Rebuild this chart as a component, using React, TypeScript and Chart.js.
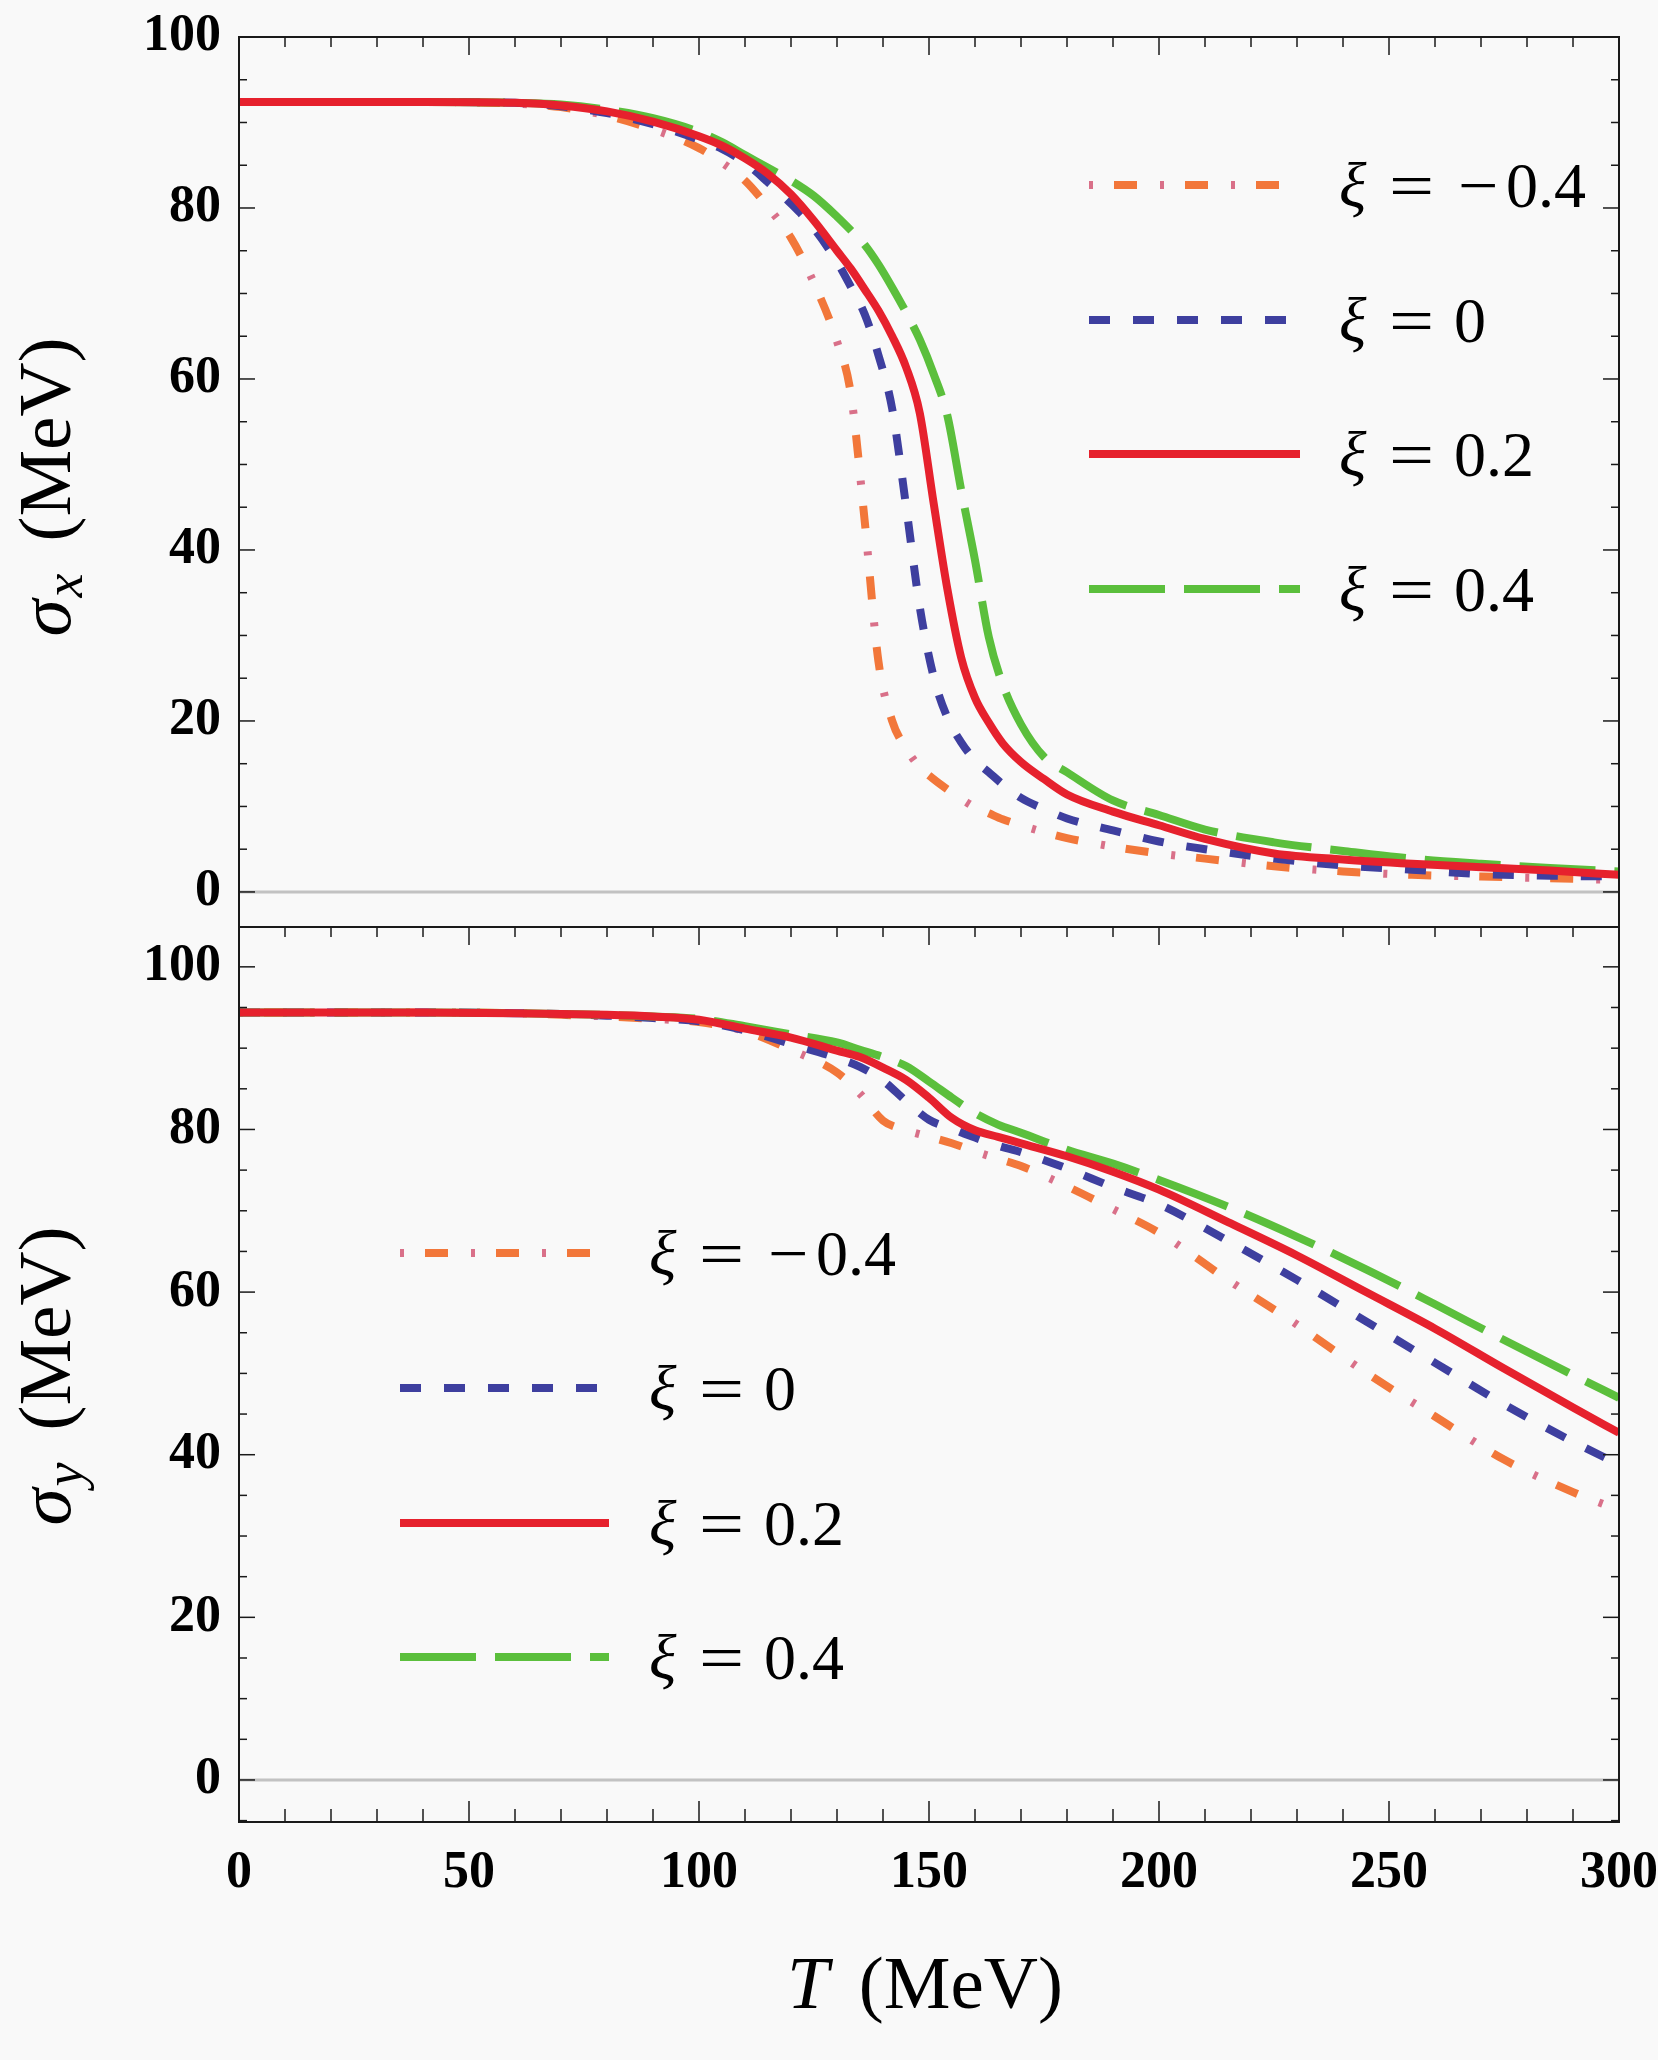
import { useEffect, useRef } from "react";
import { Chart, registerables } from "chart.js";

Chart.register(...registerables);

const SERIF = '"Liberation Serif", "Times New Roman", serif';

// top panel: sigma_x (MeV) against T (MeV)
const tempTop = [0, 20, 40, 60, 70, 80, 90, 100, 105, 110, 115, 120, 125, 130, 133, 136, 139, 142, 145, 148, 151, 154, 157, 160, 163, 166, 170, 175, 180, 190, 200, 210, 225, 240, 255, 270, 285, 300];
const sigmaXm04 = [92.4, 92.4, 92.4, 92.2, 91.8, 90.8, 89.2, 87.0, 85.3, 83.2, 80.1, 76.5, 71.2, 64.4, 58.3, 43.5, 27.0, 20.0, 16.8, 14.6, 13.2, 12.0, 10.9, 9.9, 9.2, 8.5, 7.8, 7.0, 6.3, 5.3, 4.5, 3.9, 3.0, 2.4, 2.0, 1.8, 1.6, 1.4];
const sigmaX0 = [92.4, 92.4, 92.4, 92.3, 91.9, 91.1, 89.8, 88.0, 86.9, 85.3, 83.0, 80.5, 77.6, 73.7, 70.8, 67.6, 62.8, 56.5, 45.2, 33.3, 25.2, 20.4, 17.5, 15.4, 14.0, 12.6, 11.0, 9.7, 8.6, 7.2, 5.9, 5.0, 3.9, 3.1, 2.6, 2.1, 1.9, 1.8];
const sigmaX02 = [92.4, 92.4, 92.4, 92.3, 92.0, 91.3, 90.1, 88.4, 87.3, 85.8, 84.0, 81.6, 78.5, 75.0, 72.9, 70.5, 68.0, 65.0, 61.4, 56.0, 45.5, 35.4, 27.4, 22.7, 19.8, 17.4, 15.2, 13.2, 11.4, 9.4, 7.8, 6.2, 4.5, 3.8, 3.3, 2.9, 2.5, 2.0];
const sigmaX04 = [92.4, 92.4, 92.4, 92.3, 92.1, 91.5, 90.5, 88.9, 87.7, 86.2, 84.7, 83.2, 81.4, 79.0, 77.4, 75.7, 73.4, 70.7, 67.8, 64.6, 60.6, 55.7, 47.0, 38.8, 29.8, 24.3, 19.6, 15.8, 14.0, 10.7, 9.0, 7.3, 5.8, 4.8, 3.9, 3.3, 2.8, 2.4];

// bottom panel: sigma_y (MeV) against T (MeV)
const tempBottom = [0, 20, 40, 60, 70, 80, 90, 100, 110, 120, 130, 135, 140, 145, 150, 155, 160, 165, 170, 180, 190, 200, 215, 230, 245, 260, 275, 290, 300];
const sigmaYm04 = [94.4, 94.4, 94.4, 94.3, 94.1, 93.9, 93.6, 93.2, 92.1, 89.8, 87.0, 84.4, 81.1, 79.9, 79.1, 78.3, 77.3, 76.4, 75.5, 73.0, 70.2, 67.3, 61.5, 56.0, 50.1, 44.7, 39.4, 35.4, 33.2];
const sigmaY0 = [94.4, 94.4, 94.4, 94.3, 94.2, 94.0, 93.7, 93.3, 92.2, 90.5, 88.8, 87.7, 86.0, 83.5, 81.2, 80.1, 79.0, 78.0, 77.2, 75.2, 72.9, 70.8, 66.3, 61.5, 56.4, 51.3, 46.2, 41.6, 38.8];
const sigmaY02 = [94.4, 94.4, 94.4, 94.3, 94.2, 94.1, 93.9, 93.5, 92.4, 91.3, 89.7, 88.9, 87.6, 86.1, 83.9, 81.4, 79.9, 79.1, 78.3, 76.7, 74.8, 72.6, 68.6, 64.5, 60.0, 55.5, 50.6, 45.8, 42.7];
const sigmaY04 = [94.4, 94.4, 94.4, 94.3, 94.2, 94.1, 93.9, 93.6, 92.7, 91.7, 90.7, 89.8, 88.9, 87.8, 85.9, 83.9, 82.0, 80.6, 79.6, 77.5, 75.8, 73.8, 70.5, 66.8, 62.8, 58.5, 54.1, 49.8, 47.0];

const xTickValues = [0, 50, 100, 150, 200, 250, 300];
const yTickValues = [0, 20, 40, 60, 80, 100];
const xiLabels = ["−0.4", "0", "0.2", "0.4"];

const ORANGE = "#f2773a";
const PINK = "#d97089";
const BLUE = "#3e3f9f";
const RED = "#e6212d";
const GREEN = "#5bbf3c";
const LINE_W = 8;

type LineStyle = { color: string; dash: number[]; offset: number };
// one entry per xi; the dot-dash one is drawn as two passes (dashes + dots)
const lineStyles: LineStyle[][] = [
  [
    { color: ORANGE, dash: [23, 48], offset: 46 },
    { color: PINK, dash: [4, 67], offset: 0 },
  ],
  [{ color: BLUE, dash: [21, 23], offset: 0 }],
  [{ color: RED, dash: [], offset: 0 }],
  [{ color: GREEN, dash: [76, 19], offset: 0 }],
];

type Spec = {
  top: number;
  height: number;
  padTop: number;
  chartBottom: number;
  showX: boolean;
  yMin: number;
  yMax: number;
  temps: number[];
  series: number[][];
  sub: string;
  titleCenter: number;
  legendX0: number;
  legendX1: number;
  legendTextX: number;
  legendRows: number[];
};

const topSpec: Spec = {
  top: 0,
  height: 940,
  padTop: 37,
  chartBottom: 927,
  showX: false,
  yMin: -4.1,
  yMax: 100,
  temps: tempTop,
  series: [sigmaXm04, sigmaX0, sigmaX02, sigmaX04],
  sub: "x",
  titleCenter: 487,
  legendX0: 1089,
  legendX1: 1300,
  legendTextX: 1339,
  legendRows: [185, 320, 454, 589],
};

const bottomSpec: Spec = {
  top: 900,
  height: 1160,
  padTop: 27,
  chartBottom: 1822,
  showX: true,
  yMin: -5.17,
  yMax: 104.9,
  temps: tempBottom,
  series: [sigmaYm04, sigmaY0, sigmaY02, sigmaY04],
  sub: "y",
  titleCenter: 1376,
  legendX0: 400,
  legendX1: 609,
  legendTextX: 649,
  legendRows: [1253, 1388, 1523, 1657],
};

function line(ctx: CanvasRenderingContext2D, x1: number, y1: number, x2: number, y2: number) {
  ctx.beginPath();
  ctx.moveTo(x1, y1);
  ctx.lineTo(x2, y2);
  ctx.stroke();
}

function decor(spec: Spec) {
  const dy = spec.top;
  return {
    id: "decor",
    beforeDatasetsDraw(chart: any) {
      const { ctx, chartArea: a, scales } = chart;
      const y0 = scales.y.getPixelForValue(0);
      ctx.save();
      ctx.strokeStyle = "#c2c2c2";
      ctx.lineWidth = 3;
      line(ctx, a.left, y0, a.right, y0);
      ctx.restore();
    },
    afterDatasetsDraw(chart: any) {
      const { ctx, chartArea: a, scales } = chart;
      ctx.save();
      ctx.strokeStyle = "#1a1a1a";
      ctx.lineWidth = 2;
      ctx.strokeRect(a.left, a.top, a.right - a.left, a.bottom - a.top);
      ctx.lineWidth = 1.5;
      for (let v = Math.ceil(spec.yMin / 5) * 5; v <= spec.yMax; v += 5) {
        const py = scales.y.getPixelForValue(v);
        const len = v % 20 === 0 ? 16 : 8;
        line(ctx, a.left, py, a.left + len, py);
        line(ctx, a.right, py, a.right - len, py);
      }
      for (let v = 10; v < 300; v += 10) {
        const px = scales.x.getPixelForValue(v);
        const major = v % 50 === 0;
        line(ctx, px, a.top, px, a.top + (major ? 18 : 10));
        if (spec.showX) line(ctx, px, a.bottom, px, a.bottom - (major ? 21 : 13));
      }
      ctx.restore();
    },
    afterDraw(chart: any) {
      const ctx: CanvasRenderingContext2D = chart.ctx;
      ctx.save();
      ctx.fillStyle = "#000";
      ctx.textAlign = "left";
      ctx.textBaseline = "alphabetic";

      // legend
      spec.legendRows.forEach((rowY, i) => {
        const y = rowY - dy;
        ctx.lineWidth = LINE_W;
        lineStyles[i].forEach((st) => {
          ctx.strokeStyle = st.color;
          ctx.setLineDash(st.dash);
          ctx.lineDashOffset = st.offset;
          line(ctx, spec.legendX0, y, spec.legendX1, y);
        });
        ctx.setLineDash([]);
        const tx = spec.legendTextX;
        const base = y + 22;
        ctx.font = `italic 64px ${SERIF}`;
        ctx.fillText("ξ", tx, base);
        ctx.font = `64px ${SERIF}`;
        ctx.save();
        ctx.translate(tx + 50, base);
        ctx.scale(1.25, 1);
        ctx.fillText("=", 0, 0);
        ctx.restore();
        const label = xiLabels[i];
        if (label.startsWith("−")) {
          ctx.save();
          ctx.translate(tx + 119, base);
          ctx.scale(1.12, 1);
          ctx.fillText("−", 0, 0);
          ctx.restore();
          ctx.fillText(label.slice(1), tx + 167, base);
        } else {
          ctx.fillText(label, tx + 115, base);
        }
      });

      // y axis title
      const big = `italic 75px ${SERIF}`;
      const small = `italic 54px ${SERIF}`;
      const reg = `75px ${SERIF}`;
      ctx.font = big;
      const wS = ctx.measureText("σ").width;
      ctx.font = small;
      const wSub = ctx.measureText(spec.sub).width;
      ctx.font = reg;
      const wRest = ctx.measureText("(MeV)").width;
      const total = wS + 2 + wSub + 32 + wRest;
      ctx.save();
      ctx.translate(70, spec.titleCenter - dy + total / 2);
      ctx.rotate(-Math.PI / 2);
      ctx.font = big;
      ctx.fillText("σ", 0, 0);
      ctx.font = small;
      ctx.fillText(spec.sub, wS + 2, 12);
      ctx.font = reg;
      ctx.fillText("(MeV)", wS + 2 + wSub + 32, 0);
      ctx.restore();

      // x axis title
      if (spec.showX) {
        ctx.font = `italic 75px ${SERIF}`;
        const wT = ctx.measureText("T").width;
        ctx.font = reg;
        const wM = ctx.measureText("(MeV)").width;
        const start = 925 - (wT + 30 + wM) / 2;
        const base = 2008 - dy;
        ctx.font = `italic 75px ${SERIF}`;
        ctx.fillText("T", start, base);
        ctx.font = reg;
        ctx.fillText("(MeV)", start + wT + 30, base);
      }
      ctx.restore();
    },
  };
}

function buildConfig(spec: Spec): any {
  const bottomSpace = spec.top + spec.height - spec.chartBottom;
  const datasets: any[] = [];
  // red on top, then green, blue, orange
  [2, 3, 1, 0].forEach((k) => {
    lineStyles[k].forEach((st) => {
      datasets.push({
        data: spec.temps.map((t, i) => ({ x: t, y: spec.series[k][i] })),
        borderColor: st.color,
        borderDash: st.dash,
        borderDashOffset: st.offset,
        borderWidth: LINE_W,
        pointRadius: 0,
        fill: false,
        cubicInterpolationMode: "monotone",
        clip: 0,
      });
    });
  });
  const tickFont = { family: SERIF, size: 52, weight: "bold" };
  return {
    type: "line",
    data: { datasets },
    options: {
      responsive: false,
      animation: false,
      events: [],
      layout: {
        padding: { left: 0, right: 39, top: spec.padTop, bottom: 0 },
      },
      plugins: { legend: { display: false }, tooltip: { enabled: false } },
      scales: {
        x: {
          type: "linear",
          min: 0,
          max: 300,
          display: spec.showX,
          afterBuildTicks: (s: any) => {
            s.ticks = xTickValues.map((v) => ({ value: v }));
          },
          afterFit: (s: any) => {
            s.height = bottomSpace;
            s.paddingLeft = 0;
            s.paddingRight = 0;
          },
          grid: { display: false, drawTicks: false },
          border: { display: false },
          ticks: { font: tickFont, color: "#000", padding: 20, maxRotation: 0, autoSkip: false },
        },
        y: {
          type: "linear",
          min: spec.yMin,
          max: spec.yMax,
          afterBuildTicks: (s: any) => {
            s.ticks = yTickValues.map((v) => ({ value: v }));
          },
          afterFit: (s: any) => {
            s.width = 239;
            s.paddingTop = 0;
            s.paddingBottom = 0;
          },
          grid: { display: false, drawTicks: false },
          border: { display: false },
          ticks: { font: tickFont, color: "#000", padding: 18, autoSkip: false },
        },
      },
    },
    plugins: [decor(spec)],
  };
}

export default function App() {
  const topRef = useRef<HTMLCanvasElement>(null);
  const bottomRef = useRef<HTMLCanvasElement>(null);

  useEffect(() => {
    const charts: Chart[] = [];
    if (topRef.current) charts.push(new Chart(topRef.current, buildConfig(topSpec)));
    if (bottomRef.current) charts.push(new Chart(bottomRef.current, buildConfig(bottomSpec)));
    return () => {
      charts.forEach((c) => c.destroy());
    };
  }, []);

  return (
    <div style={{ position: "absolute", left: 0, top: 0, width: 1658, height: 2060, background: "#f9f9f9", overflow: "hidden" }}>
      <canvas
        ref={topRef}
        width={1658}
        height={topSpec.height}
        style={{ position: "absolute", left: 0, top: topSpec.top, width: 1658, height: topSpec.height }}
      />
      <canvas
        ref={bottomRef}
        width={1658}
        height={bottomSpec.height}
        style={{ position: "absolute", left: 0, top: bottomSpec.top, width: 1658, height: bottomSpec.height }}
      />
    </div>
  );
}
